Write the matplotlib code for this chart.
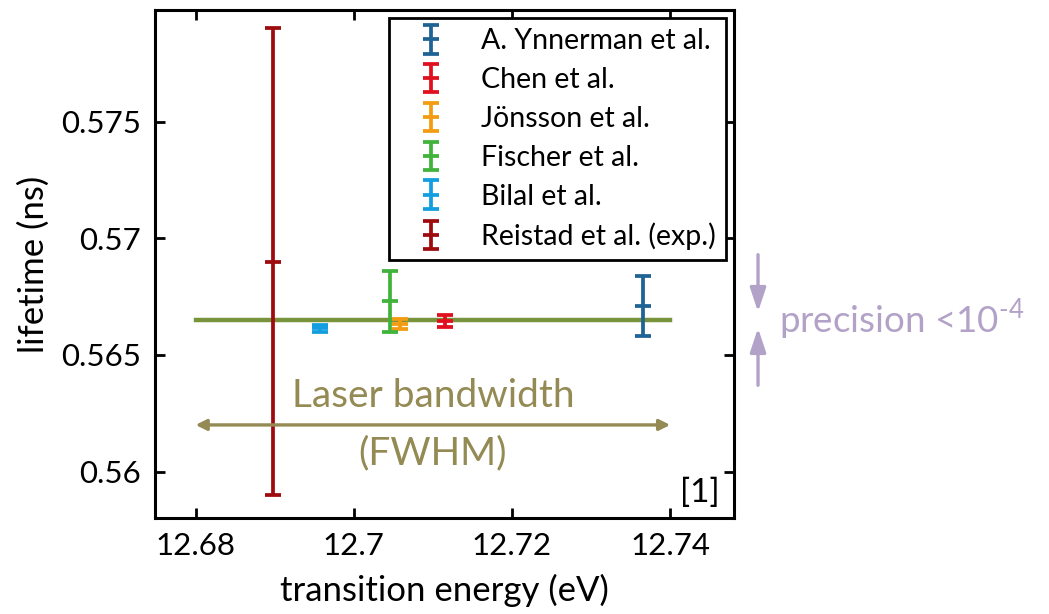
import matplotlib
matplotlib.use("Agg")
import matplotlib.pyplot as plt
from matplotlib.legend_handler import HandlerErrorbar

plt.rcParams['font.family'] = ['Lato', 'DejaVu Sans']
plt.rcParams['mathtext.fontset'] = 'custom'
plt.rcParams['mathtext.rm'] = 'Lato'

# data
authors = ["A. Ynnerman et al.", "Chen et al.", "Jönsson et al.",
           "Fischer et al.", "Bilal et al.", "Reistad et al. (exp.)"]
energies = [12.7365, 12.7115, 12.7059, 12.7046, 12.6957, 12.6898]
lifetimes = [0.56709, 0.56647, 0.56633, 0.56730, 0.56615, 0.5690]
errors = [0.00128, 0.00025, 0.00020, 0.00130, 0.00015, 0.0100]
colors = ["#1f6394", "#e0101e", "#f39c12", "#41b33a", "#139ee0", "#9e0b0f"]

ref_lifetime = 0.5665
laser_band = [12.68, 12.74]
arrow_level = 0.562

fig = plt.figure(figsize=(10.49, 6.14), dpi=100)
ax = fig.add_axes([0.148, 0.156, 0.552, 0.828])

ax.plot(laser_band, [ref_lifetime, ref_lifetime], color="#77933c", lw=3.2, zorder=1)

for name, e, t, err, c in zip(authors, energies, lifetimes, errors, colors):
    ax.errorbar(e, t, yerr=err, fmt='_', color=c, ecolor=c, elinewidth=2.7,
                capsize=5.5, capthick=2.7, markersize=11, mew=2.7, label=name, zorder=3)

# laser bandwidth arrow
ax.annotate("", xy=(laser_band[0], arrow_level), xytext=(laser_band[1], arrow_level),
            arrowprops=dict(arrowstyle="<|-|>", color="#948a54", lw=2.4,
                            mutation_scale=16, shrinkA=0, shrinkB=0))
mid = sum(laser_band) / 2
ax.text(mid, arrow_level + 0.00045, "Laser bandwidth", color="#948a54", fontsize=28,
        ha="center", va="bottom")
ax.text(mid, arrow_level - 0.00045, "(FWHM)", color="#948a54", fontsize=28,
        ha="center", va="top")

ax.text(0.975, 0.02, "[1]", transform=ax.transAxes, fontsize=24, ha="right", va="bottom")

# precision annotation outside the axes
px = 12.7511
ax.annotate("", xy=(px, ref_lifetime + 0.00035), xytext=(px, ref_lifetime + 0.0028),
            annotation_clip=False,
            arrowprops=dict(arrowstyle="-|>,head_width=0.3,head_length=0.9", color="#b3a2c7",
                            lw=2.4, mutation_scale=16, shrinkA=0, shrinkB=0))
ax.annotate("", xy=(px, ref_lifetime - 0.00035), xytext=(px, ref_lifetime - 0.0028),
            annotation_clip=False,
            arrowprops=dict(arrowstyle="-|>,head_width=0.3,head_length=0.9", color="#b3a2c7",
                            lw=2.4, mutation_scale=16, shrinkA=0, shrinkB=0))
ax.text(px + 0.0027, ref_lifetime, r"precision <10$^{\text{-4}}$", color="#b3a2c7",
        fontsize=26.5, ha="left", va="center", clip_on=False)

ax.set_xlim(12.6749, 12.7481)
ax.set_ylim(0.558, 0.5798)
ax.set_xticks([12.68, 12.70, 12.72, 12.74])
ax.set_xticklabels(["12.68", "12.7", "12.72", "12.74"])
ax.set_yticks([0.56, 0.565, 0.57, 0.575])
ax.set_yticklabels(["0.56", "0.565", "0.57", "0.575"])
ax.tick_params(direction="in", length=7, width=2, labelsize=22.5, top=True, right=True, pad=10)
for s in ax.spines.values():
    s.set_linewidth(2.2)

ax.set_xlabel("transition energy (eV)", fontsize=25, labelpad=10)
ax.set_ylabel("lifetime (ns)", fontsize=25, labelpad=8)

leg = ax.legend(loc="upper right", fontsize=20.5, frameon=True, fancybox=False,
                edgecolor="black", framealpha=1, borderaxespad=0.3, labelspacing=0.45,
                handlelength=2.3, handletextpad=0.6, borderpad=0.35,
                handler_map={matplotlib.container.ErrorbarContainer: HandlerErrorbar(yerr_size=0.5)})
leg.get_frame().set_linewidth(2)

fig.savefig("out.png", dpi=100)
